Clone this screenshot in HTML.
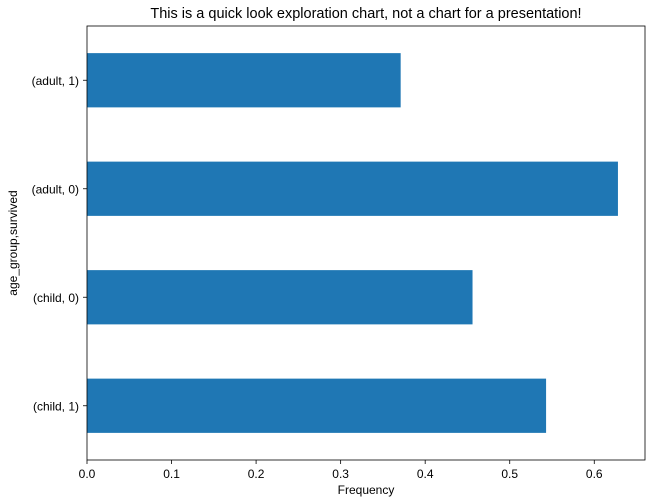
<!DOCTYPE html>
<html><head><meta charset="utf-8"><style>
html,body{margin:0;padding:0;background:#fff;}
svg{display:block;font-family:"Liberation Sans","DejaVu Sans",sans-serif;}
</style></head><body>
<svg id="chart" width="651" height="503"></svg>
<script>
const categories = ["(adult, 1)", "(adult, 0)", "(child, 0)", "(child, 1)"];
const values = [0.371, 0.628, 0.456, 0.543];
const xTicks = [0, 0.1, 0.2, 0.3, 0.4, 0.5, 0.6];
const xTickLabels = ["0.0", "0.1", "0.2", "0.3", "0.4", "0.5", "0.6"];

const L = 87, R = 645, T = 26, B = 460, XMAX = 0.66;
const NS = "http://www.w3.org/2000/svg";
const svg = document.getElementById("chart");
function x(v){ return L + (R - L) * v / XMAX; }
const band = (B - T) / categories.length;
function yc(i){ return T + band * (i + 0.5); }
function mk(tag, attrs, text){
  const e = document.createElementNS(NS, tag);
  for (const k in attrs) e.setAttribute(k, attrs[k]);
  if (text !== undefined) e.textContent = text;
  svg.appendChild(e); return e;
}
values.forEach((v, i) => {
  const r = mk("rect", {x: x(0), y: yc(i) - band * 0.25, width: x(v) - x(0), height: band * 0.5, fill: "#1f77b4"});
  
  
  const t = mk("text", {x: L - 8, y: yc(i) + 4.5, "text-anchor": "end", "font-size": 12, fill: "#000"}, categories[i]);
  
  
  const tk = mk("line", {x1: L - 4, x2: L, y1: yc(i), y2: yc(i), stroke: "#000", "stroke-width": 0.8});
  
  
});
xTicks.forEach((v, i) => {
  const tk = mk("line", {x1: x(v), x2: x(v), y1: B, y2: B + 4, stroke: "#000", "stroke-width": 0.8});
  
  
  const t = mk("text", {x: x(v), y: B + 18, "text-anchor": "middle", "font-size": 12, fill: "#000"}, xTickLabels[i]);
  
  
});
const frame = mk("rect", {x: L, y: T, width: R - L, height: B - T, fill: "none", stroke: "#000", "stroke-width": 0.8});


const title = mk("text", {x: (L + R) / 2, y: 18, "text-anchor": "middle", "font-size": 14.5, fill: "#000"}, "This is a quick look exploration chart, not a chart for a presentation!");


const xl = mk("text", {x: (L + R) / 2, y: 494, "text-anchor": "middle", "font-size": 12, fill: "#000"}, "Frequency");


const yl = mk("text", {x: 0, y: 0, "text-anchor": "middle", "font-size": 12, fill: "#000", transform: "translate(17," + (T + B) / 2 + ") rotate(-90)"}, "age_group,survived");


</script>
</body></html>
